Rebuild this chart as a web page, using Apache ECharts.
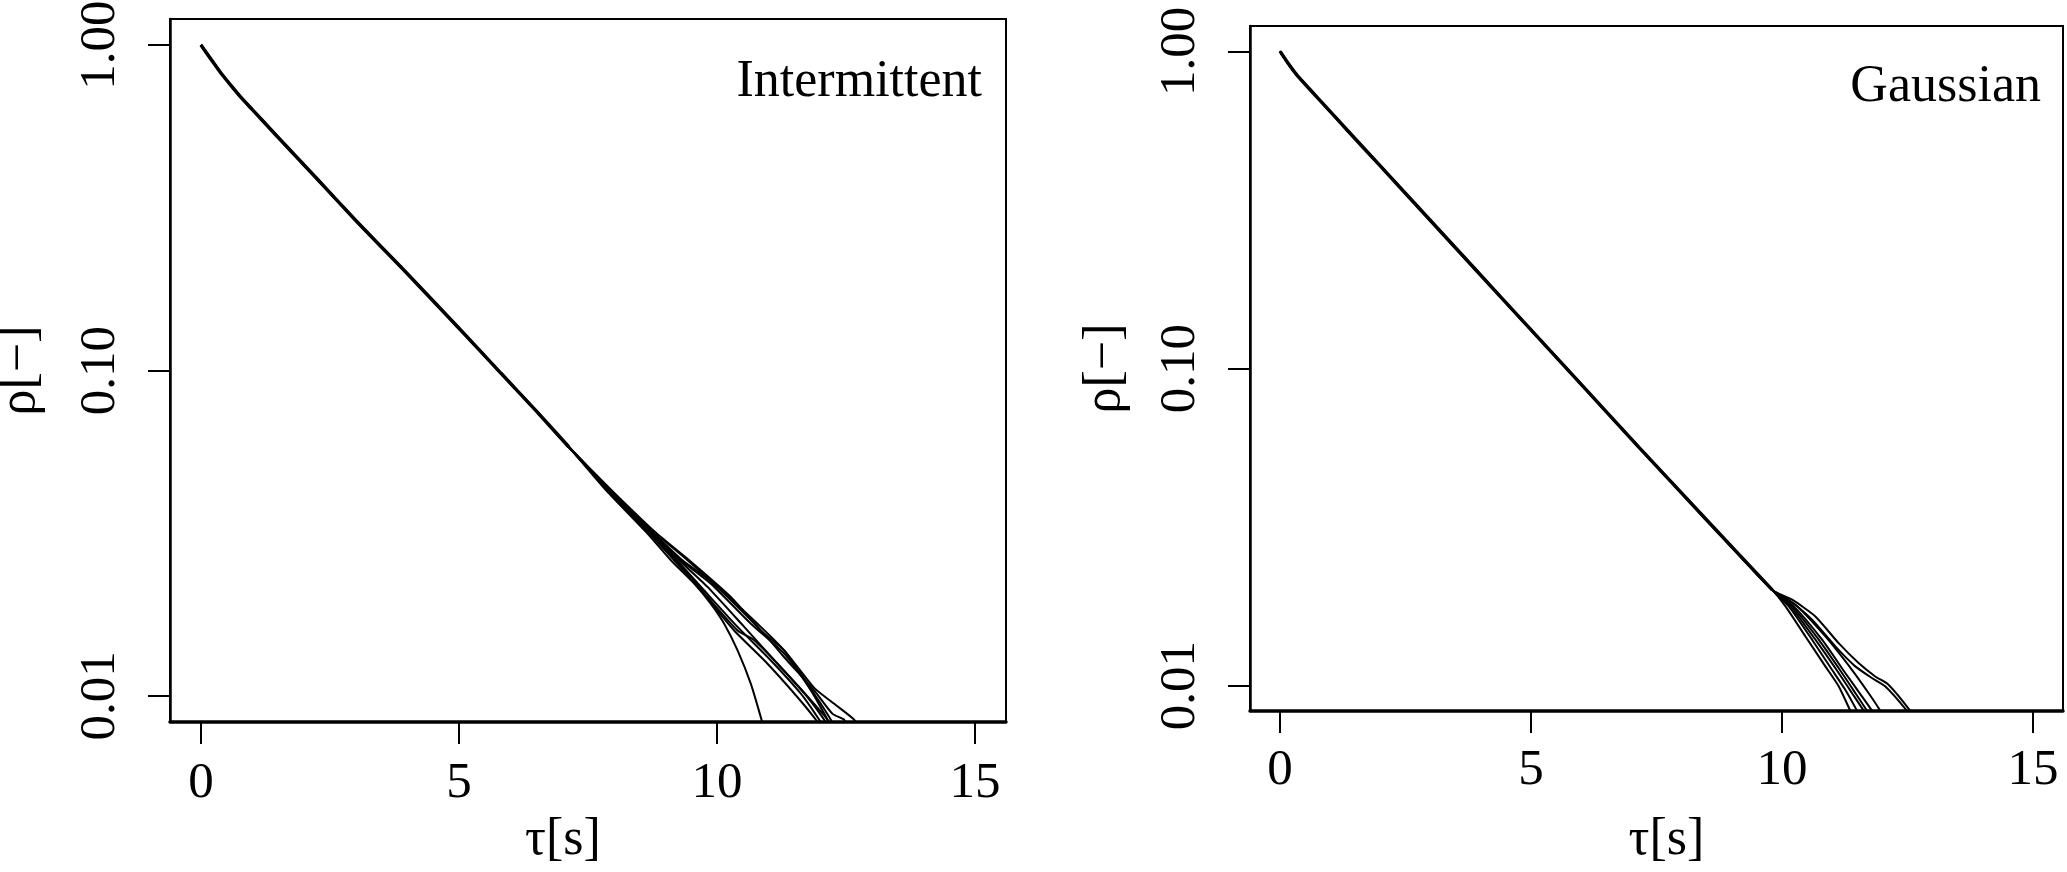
<!DOCTYPE html>
<html>
<head>
<meta charset="utf-8">
<script src="https://cdn.jsdelivr.net/npm/echarts@6/dist/echarts.min.js"></script>
<style>
  html, body { margin: 0; padding: 0; background: #fff; }
  #chart { width: 2067px; height: 872px; }
</style>
</head>
<body>
<div id="chart"></div>
<script>
// tick positions / labels
var xTicks = [0, 5, 10, 15];
var yTicks = [0.01, 0.1, 1];
var panelLabels = ["Intermittent", "Gaussian"];

// Intermittent: common part of all curves, [tau, rho]
var intermittentHead = [
  [0, 1.0], [0.2, 0.902], [0.39, 0.819], [0.6, 0.745], [0.78, 0.689], [1.0, 0.632],
  [1.42, 0.536], [2.23, 0.391], [3.0, 0.289], [3.88, 0.2075], [5.0, 0.1349],
  [5.81, 0.0982], [6.5, 0.075], [7.13, 0.0582]
];
// Intermittent: individual tails
var intermittentTails = [
  [[7.846, 0.0429], [8.653, 0.03155], [9.106, 0.02612], [9.558, 0.02213], [9.881, 0.01919], [10.139, 0.01667], [10.398, 0.0138], [10.656, 0.01089], [10.863, 0.00845], [10.9, 0.008]],
  [[7.878, 0.0429], [8.686, 0.03155], [9.17, 0.02612], [9.687, 0.02109], [10.333, 0.01589], [10.979, 0.01256], [11.56, 0.00991], [11.916, 0.00845], [12.0, 0.008]],
  [[7.891, 0.0429], [8.718, 0.03155], [9.222, 0.02612], [9.752, 0.02109], [10.398, 0.0163], [11.044, 0.01285], [11.625, 0.01016], [11.98, 0.00845], [12.06, 0.008]],
  [[7.911, 0.0429], [8.75, 0.03155], [9.267, 0.02612], [9.816, 0.02163], [10.527, 0.0163], [11.173, 0.01256], [11.754, 0.00991], [12.077, 0.00845], [12.15, 0.008]],
  [[7.911, 0.0429], [8.75, 0.03155], [9.299, 0.02612], [9.881, 0.02213], [10.656, 0.01667], [11.302, 0.01349], [11.819, 0.0104], [12.142, 0.00845], [12.21, 0.008]],
  [[7.93, 0.0429], [8.783, 0.03155], [9.332, 0.02612], [9.945, 0.02213], [10.785, 0.01667], [11.302, 0.0138], [11.883, 0.01016], [12.206, 0.00845], [12.27, 0.008]],
  [[7.943, 0.0429], [8.815, 0.03155], [9.429, 0.02612], [10.139, 0.0206], [10.914, 0.01552], [11.302, 0.01315], [11.883, 0.0104], [12.239, 0.00881], [12.465, 0.00845], [12.52, 0.008]],
  [[7.956, 0.0429], [8.834, 0.03155], [9.461, 0.02612], [10.268, 0.02014], [10.85, 0.01589], [11.302, 0.0138], [11.883, 0.01059], [12.271, 0.00946], [12.659, 0.00845], [12.72, 0.008]],
  [[7.878, 0.0429], [8.718, 0.03155], [9.203, 0.02612], [9.816, 0.02014], [10.398, 0.01589], [10.721, 0.01483], [11.173, 0.01256], [11.883, 0.00946], [12.142, 0.00845], [12.2, 0.008]]
];

// Gaussian: common part of all curves
var gaussianHead = [
  [0, 1.0], [0.17, 0.912], [0.34, 0.84], [0.67, 0.736], [1.0, 0.6457], [1.33, 0.5662],
  [2.0, 0.4345], [3.0, 0.2924], [3.98, 0.1982], [5.0, 0.1324], [6.0, 0.0891],
  [7.16, 0.0562], [8.5, 0.0333], [9.806, 0.02004]
];
// Gaussian: individual tails
var gaussianTails = [
  [[10.071, 0.01778], [10.468, 0.01429], [10.865, 0.0115], [11.13, 0.00995], [11.361, 0.00834], [11.42, 0.008]],
  [[10.137, 0.01778], [10.6, 0.01396], [10.997, 0.01122], [11.262, 0.0097], [11.494, 0.00834], [11.55, 0.008]],
  [[10.17, 0.01778], [10.666, 0.01396], [11.13, 0.01096], [11.394, 0.00948], [11.626, 0.00834], [11.68, 0.008]],
  [[10.203, 0.01778], [10.733, 0.01396], [11.196, 0.01096], [11.461, 0.00948], [11.692, 0.00834], [11.75, 0.008]],
  [[10.236, 0.01778], [10.799, 0.01396], [11.262, 0.01096], [11.593, 0.00925], [11.792, 0.00834], [11.85, 0.008]],
  [[10.269, 0.01799], [10.865, 0.01429], [11.394, 0.01122], [11.725, 0.00948], [11.957, 0.00834], [12.01, 0.008]],
  [[10.203, 0.01866], [10.666, 0.01652], [11.13, 0.01361], [11.527, 0.01178], [11.858, 0.01069], [12.123, 0.01007], [12.553, 0.00834], [12.6, 0.008]],
  [[10.17, 0.01845], [10.6, 0.01614], [11.064, 0.0133], [11.461, 0.0115], [11.792, 0.01057], [12.056, 0.00995], [12.487, 0.00834], [12.54, 0.008]]
];

var FONT = '"Liberation Serif", "Times New Roman", serif';

function xAxisFor(gridIndex, labelMargin, nameGap, namePad) {
  return {
    type: "value",
    gridIndex: gridIndex,
    min: -0.6,
    max: 15.6,
    name: "τ[s]",
    nameLocation: "middle",
    nameGap: nameGap,
    nameMoveOverlap: false,
    nameTextStyle: { fontFamily: FONT, fontSize: 52, lineHeight: 52, color: "#000", padding: namePad },
    axisLine: { show: true, onZero: false, lineStyle: { color: "#000", width: 3.5 } },
    axisTick: { show: true, length: 22, customValues: xTicks, lineStyle: { color: "#000", width: 2 } },
    axisLabel: { customValues: xTicks, margin: labelMargin, fontFamily: FONT, fontSize: 51, lineHeight: 52, color: "#000" },
    splitLine: { show: false }
  };
}

function yAxisFor(gridIndex, nameGap) {
  return {
    type: "log",
    logBase: 10,
    gridIndex: gridIndex,
    min: Math.pow(10, -2.08),
    max: Math.pow(10, 0.08),
    name: "ρ[−]",
    nameLocation: "middle",
    nameRotate: 90,
    nameGap: nameGap,
    nameMoveOverlap: false,
    nameTextStyle: { fontFamily: FONT, fontSize: 52, lineHeight: 52, color: "#000" },
    axisLine: { show: true, onZero: false, lineStyle: { color: "#000", width: 2.5 } },
    axisTick: { show: true, length: 22, customValues: yTicks, lineStyle: { color: "#000", width: 2 } },
    axisLabel: {
      customValues: yTicks,
      rotate: 90,
      margin: 43,
      fontFamily: FONT,
      fontSize: 51,
      lineHeight: 52,
      color: "#000",
      formatter: function (v) { return Number(v).toFixed(2); }
    },
    splitLine: { show: false }
  };
}

function lineSeries(idx, data, width) {
  return {
    type: "line",
    xAxisIndex: idx,
    yAxisIndex: idx,
    data: data,
    showSymbol: false,
    smooth: 0.2,
    silent: true,
    clip: true,
    lineStyle: { color: "#000", width: width }
  };
}

var series = [];
intermittentTails.forEach(function (t) {
  series.push(lineSeries(0, intermittentHead.concat(t), 2));
});
series.push(lineSeries(0, intermittentHead, 3.5));
gaussianTails.forEach(function (t) {
  series.push(lineSeries(1, gaussianHead.concat(t), 2));
});
series.push(lineSeries(1, gaussianHead, 3.5));

var chart = echarts.init(document.getElementById("chart"), null, { renderer: "canvas" });
chart.setOption({
  animation: false,
  backgroundColor: "#fff",
  grid: [
    { left: 170, top: 19, width: 836, height: 703, outerBoundsMode: "none", containLabel: false,
      show: true, borderColor: "#000", borderWidth: 2, backgroundColor: "transparent" },
    { left: 1250, top: 26, width: 813, height: 685, outerBoundsMode: "none", containLabel: false,
      show: true, borderColor: "#000", borderWidth: 2, backgroundColor: "transparent" }
  ],
  xAxis: [xAxisFor(0, 36, 92, [0, 50, 0, 0]), xAxisFor(1, 34, 103, [0, 0, 0, 20])],
  yAxis: [yAxisFor(0, 124), yAxisFor(1, 119)],
  graphic: [
    { type: "text", style: { x: 982, y: 82.5, text: panelLabels[0], fontFamily: FONT, fontSize: 52, lineHeight: 52, fill: "#000", align: "right", verticalAlign: "middle" } },
    { type: "text", style: { x: 2041, y: 87.5, text: panelLabels[1], fontFamily: FONT, fontSize: 52, lineHeight: 52, fill: "#000", align: "right", verticalAlign: "middle" } }
  ],
  series: series
});
</script>
</body>
</html>
